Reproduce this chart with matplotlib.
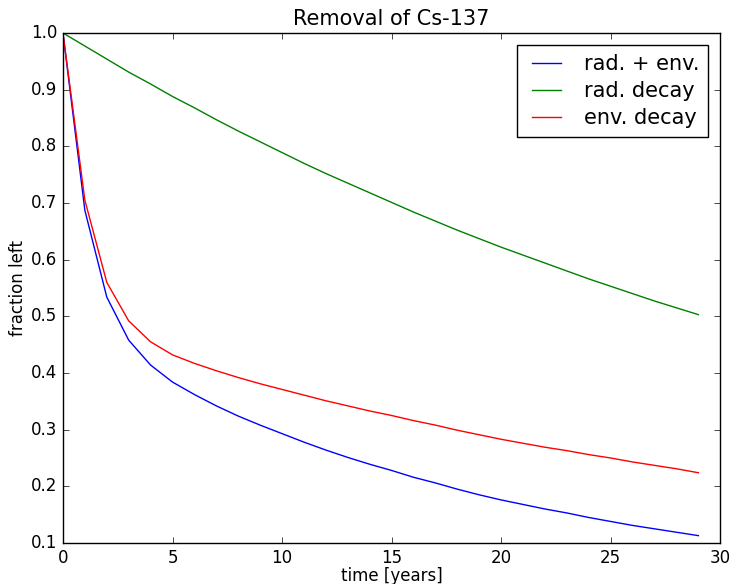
import matplotlib
matplotlib.use("Agg")
import matplotlib.pyplot as plt

# time axis in years
years = list(range(30))

# radioactive decay only
rad_decay = [1.000, 0.977, 0.954, 0.931, 0.910, 0.888, 0.868, 0.847, 0.827, 0.808,
             0.789, 0.770, 0.752, 0.735, 0.718, 0.701, 0.684, 0.668, 0.652, 0.637,
             0.622, 0.608, 0.594, 0.580, 0.566, 0.553, 0.540, 0.527, 0.515, 0.503]

# environmental decay only
env_decay = [1.000, 0.705, 0.560, 0.492, 0.455, 0.432, 0.417, 0.404, 0.392, 0.381,
             0.371, 0.361, 0.351, 0.342, 0.333, 0.325, 0.316, 0.308, 0.299, 0.291,
             0.283, 0.276, 0.269, 0.263, 0.256, 0.250, 0.243, 0.237, 0.231, 0.224]

# both together
rad_env = [1.000, 0.687, 0.534, 0.458, 0.414, 0.384, 0.362, 0.342, 0.324, 0.308,
           0.293, 0.278, 0.264, 0.251, 0.239, 0.228, 0.216, 0.206, 0.195, 0.185,
           0.176, 0.168, 0.160, 0.153, 0.145, 0.138, 0.131, 0.125, 0.119, 0.113]

plt.style.use("classic")
plt.rcParams["figure.facecolor"] = "white"
plt.rcParams["savefig.facecolor"] = "white"

fig = plt.figure(figsize=(7.32, 5.84), dpi=100)
ax = fig.add_axes([0.086, 0.0702, 0.898, 0.8733])

ax.plot(years, rad_env, color="b", label="rad. + env.")
ax.plot(years, rad_decay, color="g", label="rad. decay")
ax.plot(years, env_decay, color="r", label="env. decay")

ax.set_xlim(0, 30)
ax.set_ylim(0.1, 1.0)
ax.tick_params(labelsize=12)
ax.set_title("Removal of Cs-137", fontsize=15, pad=6)
ax.set_xlabel("time [years]", fontsize=12, labelpad=0)
ax.set_ylabel("fraction left", fontsize=12, labelpad=3)

ax.legend(loc="upper right", fontsize=15, handlelength=2.0, labelspacing=0.35,
          borderaxespad=0.6)

fig.savefig("out.png", dpi=100)
